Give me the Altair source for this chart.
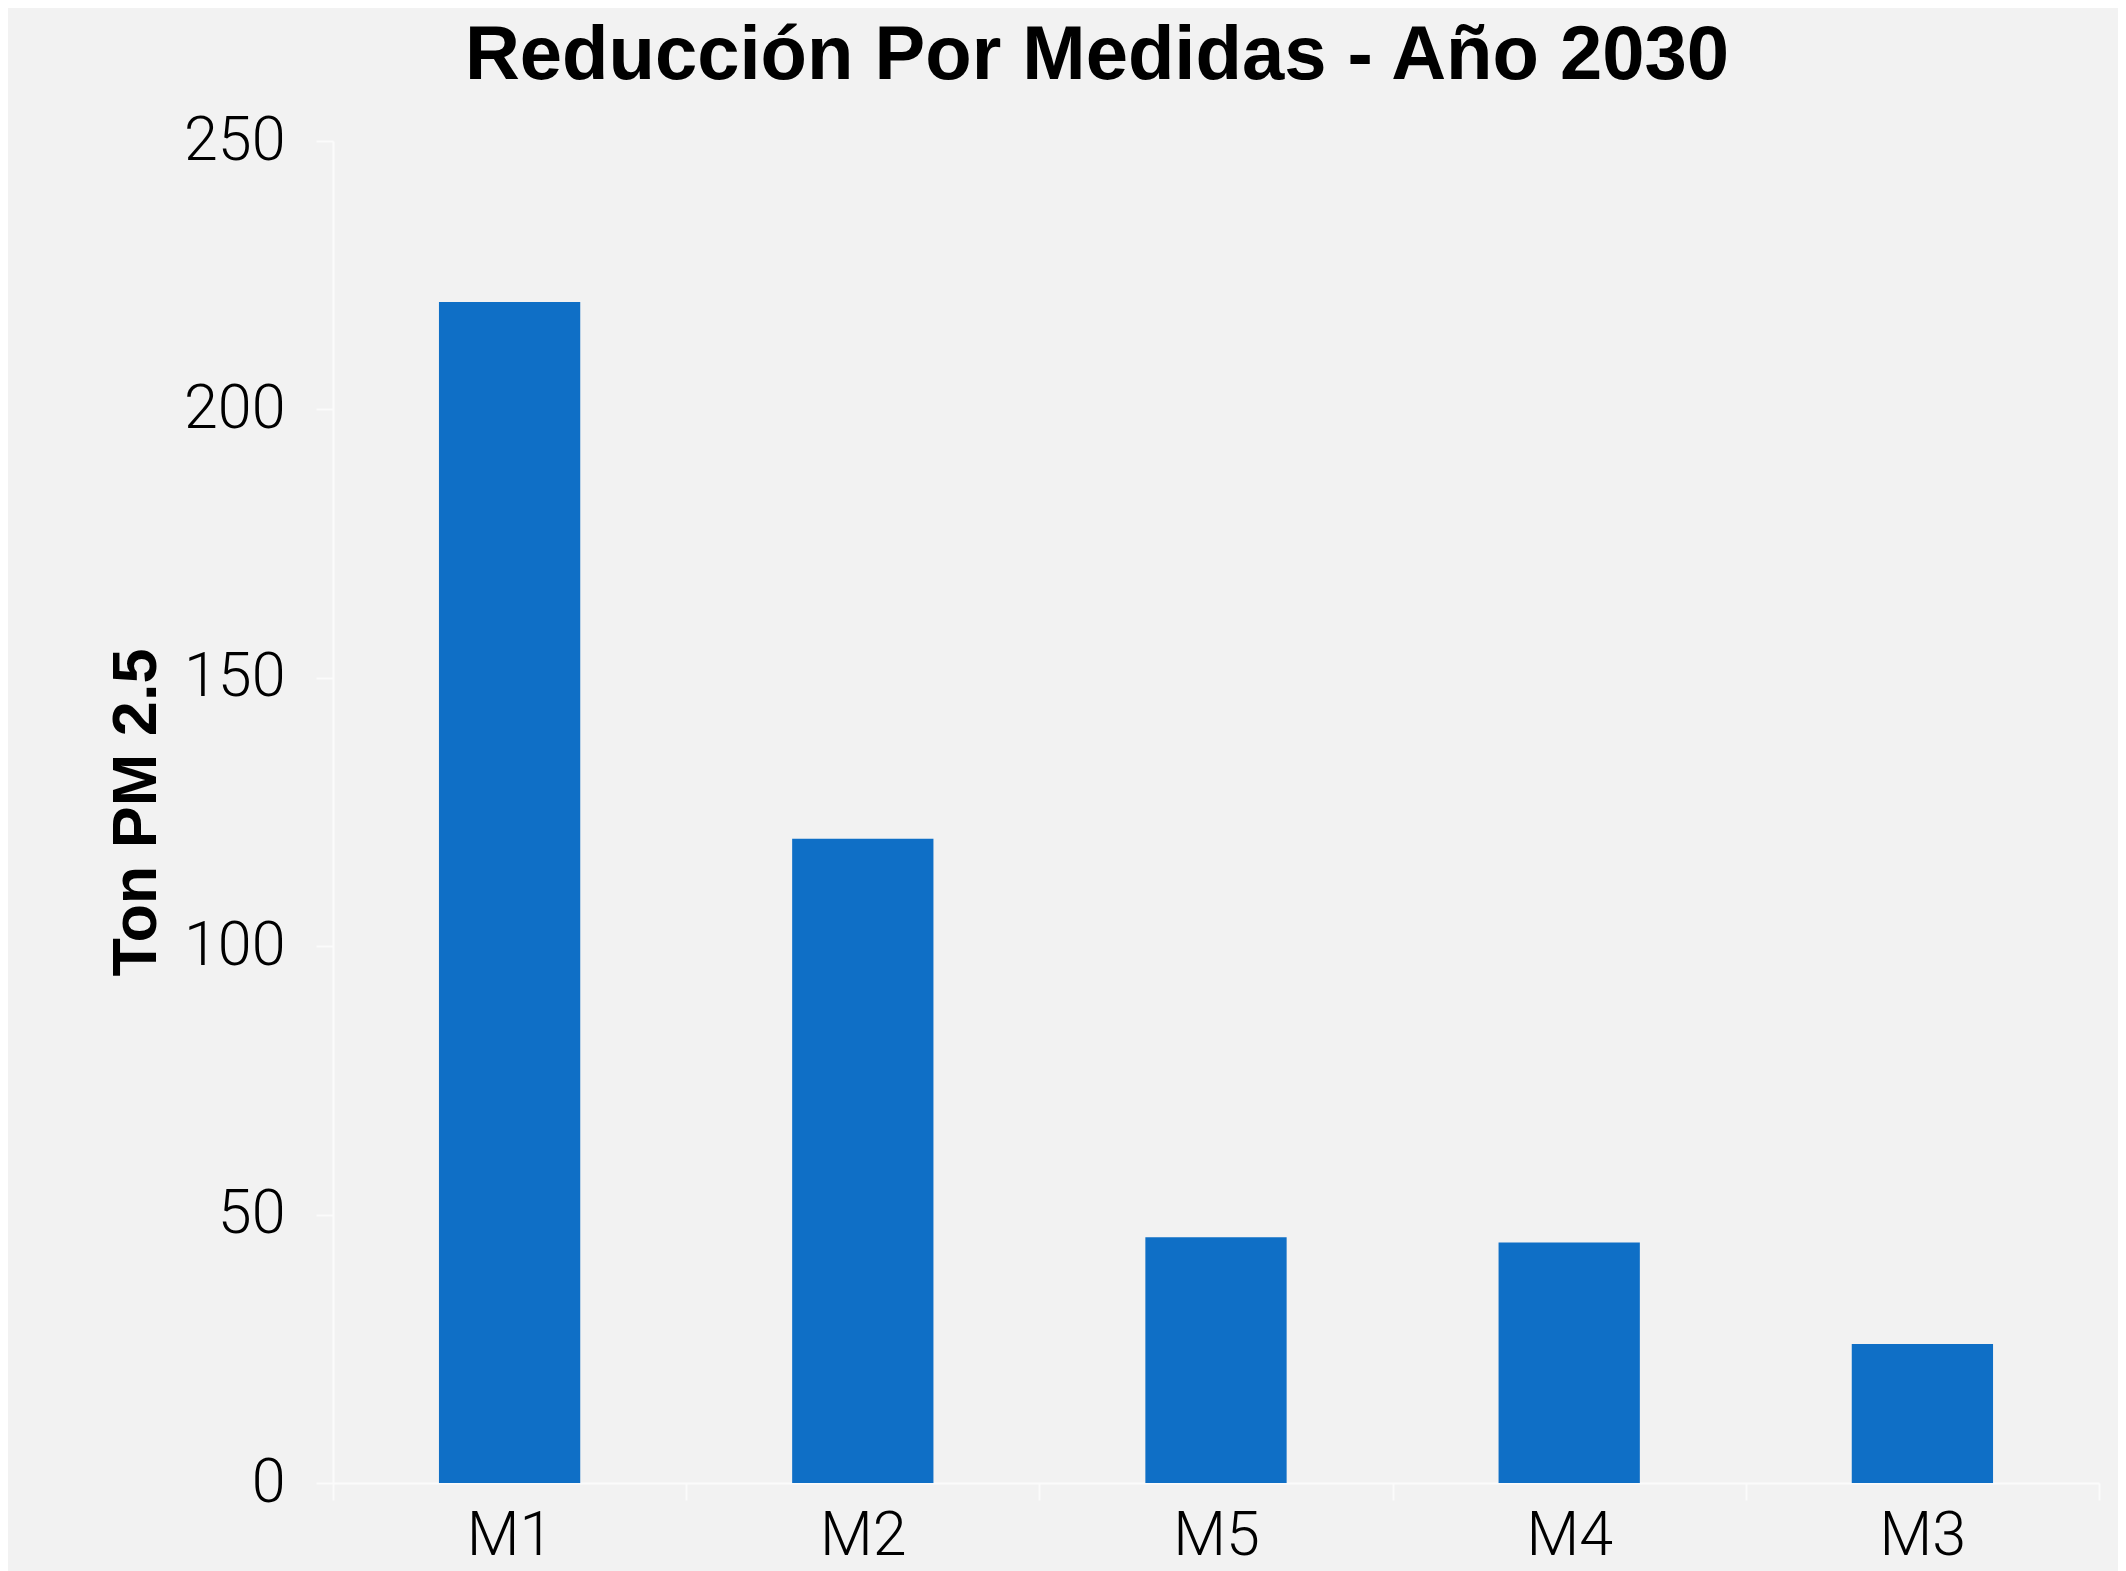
import altair as alt
import pandas as pd

categories = ["M1", "M2", "M5", "M4", "M3"]
values = [220.0, 120.0, 45.8, 44.8, 25.9]
y_ticks = [0, 50, 100, 150, 200, 250]

df = pd.DataFrame({"medida": categories, "ton": values})

axis_color = "#fbfbfb"

chart = (
    alt.Chart(df)
    .mark_bar(width=alt.RelativeBandSize(0.4), color="#0f6fc6")
    .encode(
        x=alt.X(
            "medida:N",
            sort=categories,
            title=None,
            scale=alt.Scale(paddingInner=0, paddingOuter=0),
            axis=alt.Axis(
                tickBand="extent",
                labelAngle=0,
                labelFont="Roboto",
                labelFontWeight=300,
                labelFontSize=61,
                labelColor="#000000",
                labelPadding=6,
                domainColor=axis_color,
                domainWidth=2,
                tickColor=axis_color,
                tickWidth=2,
                tickSize=17,
                grid=False,
            ),
        ),
        y=alt.Y(
            "ton:Q",
            title="Ton PM 2.5",
            scale=alt.Scale(domain=[0, 250], nice=False),
            axis=alt.Axis(
                values=y_ticks,
                labelFont="Roboto",
                labelFontWeight=300,
                labelFontSize=61,
                labelColor="#000000",
                labelPadding=31,
                domainColor=axis_color,
                domainWidth=2,
                tickColor=axis_color,
                tickWidth=2,
                tickSize=17,
                grid=False,
                titleFont="Liberation Sans",
                titleFontWeight="bold",
                titleFontSize=63,
                titleColor="#000000",
                titleAngle=270,
                titleBaseline="alphabetic",
                titleAlign="center",
                titleX=-178,
                titleY=671,
            ),
        ),
    )
    .properties(
        width=1766,
        height=1342,
        padding={"left": 325, "top": 133, "right": 19, "bottom": 88},
        autosize=alt.AutoSizeParams(type="none"),
        title=alt.Title(
            "Reducción Por Medidas - Año 2030",
            font="Liberation Sans",
            fontWeight="bold",
            fontSize=76,
            color="#000000",
            anchor="middle",
            dx=-119,
            offset=15,
        ),
    )
    .configure(background="#f2f2f2")
    .configure_view(strokeWidth=0)
)

chart.save("out.html", embed_options={"renderer": "svg", "actions": False})
